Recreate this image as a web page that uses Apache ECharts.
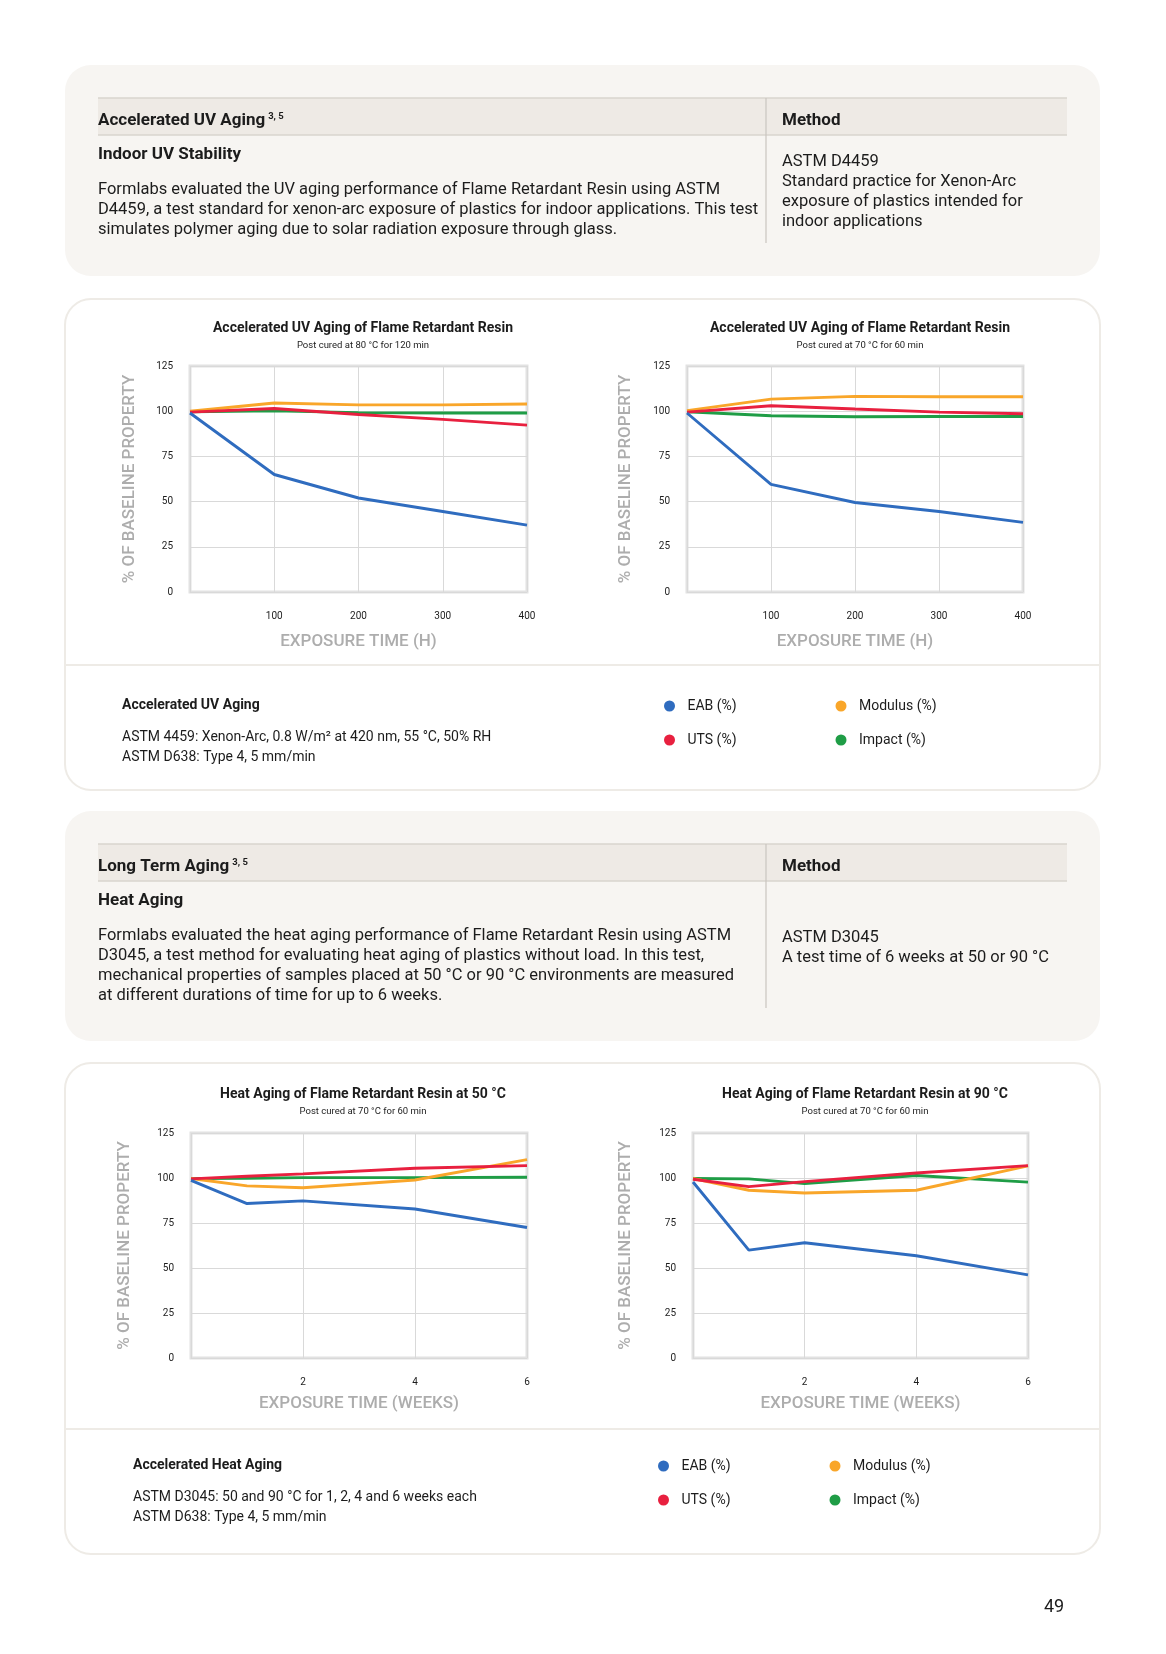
<!DOCTYPE html>
<html>
<head>
<meta charset="utf-8">
<script src="https://cdn.jsdelivr.net/npm/echarts@6/dist/echarts.min.js"></script>
<style>
  html, body { margin: 0; padding: 0; background: #fff; }
  #page { width: 1166px; height: 1654px; }
</style>
</head>
<body>
<div id="page"></div>
<script>
// x values
const uvHours = [0, 100, 200, 300, 400];
const heatWeeks = [0, 1, 2, 4, 6];
const seriesNames = ['EAB (%)', 'Modulus (%)', 'UTS (%)', 'Impact (%)'];

// UV aging, post cured 80 C / 120 min
const uv80EAB = [99, 65, 52, 44.5, 37];
const uv80Modulus = [100, 104.5, 103.5, 103.5, 104];
const uv80UTS = [99.5, 101.5, 98.2, 95.5, 92.3];
const uv80Impact = [99.7, 100.2, 99.2, 99, 99];

// UV aging, post cured 70 C / 60 min
const uv70EAB = [99, 59.5, 49.5, 44.5, 38.5];
const uv70Modulus = [100.3, 106.7, 108.2, 108, 108];
const uv70UTS = [99.5, 103, 101.2, 99.5, 98.6];
const uv70Impact = [99.7, 97.5, 96.9, 97.1, 97.1];

// heat aging at 50 C
const heat50EAB = [98.7, 85.8, 87.3, 82.8, 72.5];
const heat50Modulus = [99.7, 95.6, 94.6, 98.9, 110.2];
const heat50UTS = [99.5, 101, 102.3, 105.4, 106.9];
const heat50Impact = [99.7, 99.9, 100.2, 100.2, 100.4];

// heat aging at 90 C
const heat90EAB = [97.8, 59.9, 64, 56.8, 46.2];
const heat90Modulus = [99.7, 93.2, 91.7, 93.2, 106.7];
const heat90UTS = [99.3, 95.2, 98, 102.8, 106.9];
const heat90Impact = [99.7, 99.5, 96.9, 101.4, 97.7];

const colors = {
  'EAB (%)': '#2f6cbf',
  'Modulus (%)': '#f9a62a',
  'UTS (%)': '#e8203f',
  'Impact (%)': '#1f9d46'
};

const FONT = 'Roboto, "Noto Sans", sans-serif';
const INK = '#1c1c1c';
const BEIGE = '#f7f5f2';
const HEAD = '#eeeae5';
const EDGE = '#eeebe6';
const BODY = 16.5;

const charts = [
  { x: uvHours, data: { 'EAB (%)': uv80EAB, 'Modulus (%)': uv80Modulus, 'UTS (%)': uv80UTS, 'Impact (%)': uv80Impact },
    grid: { left: 190, top: 366, width: 337, height: 226 }, max: 400, step: 100, xName: 'EXPOSURE TIME (H)',
    yGap: 52, xGap: 41,
    title: 'Accelerated UV Aging of Flame Retardant Resin', sub: 'Post cured at 80 °C for 120 min', cx: 358, ty: 316 },
  { x: uvHours, data: { 'EAB (%)': uv70EAB, 'Modulus (%)': uv70Modulus, 'UTS (%)': uv70UTS, 'Impact (%)': uv70Impact },
    grid: { left: 687, top: 366, width: 336, height: 226 }, max: 400, step: 100, xName: 'EXPOSURE TIME (H)',
    yGap: 53, xGap: 41,
    title: 'Accelerated UV Aging of Flame Retardant Resin', sub: 'Post cured at 70 °C for 60 min', cx: 855, ty: 316 },
  { x: heatWeeks, data: { 'EAB (%)': heat50EAB, 'Modulus (%)': heat50Modulus, 'UTS (%)': heat50UTS, 'Impact (%)': heat50Impact },
    grid: { left: 191, top: 1133, width: 336, height: 225 }, max: 6, step: 2, xName: 'EXPOSURE TIME (WEEKS)',
    yGap: 58, xGap: 37,
    title: 'Heat Aging of Flame Retardant Resin at 50 °C', sub: 'Post cured at 70 °C for 60 min', cx: 358, ty: 1082 },
  { x: heatWeeks, data: { 'EAB (%)': heat90EAB, 'Modulus (%)': heat90Modulus, 'UTS (%)': heat90UTS, 'Impact (%)': heat90Impact },
    grid: { left: 693, top: 1133, width: 335, height: 225 }, max: 6, step: 2, xName: 'EXPOSURE TIME (WEEKS)',
    yGap: 59, xGap: 37,
    title: 'Heat Aging of Flame Retardant Resin at 90 °C', sub: 'Post cured at 70 °C for 60 min', cx: 860, ty: 1082 }
];

// draw order: green, orange, red, blue on top
const drawOrder = ['Impact (%)', 'Modulus (%)', 'UTS (%)', 'EAB (%)'];

const grids = [], xAxes = [], yAxes = [], series = [], titles = [];
charts.forEach(function (c, i) {
  grids.push(Object.assign({
    show: true, backgroundColor: '#fff', borderColor: '#e2e2e2', borderWidth: 3
  }, c.grid));
  xAxes.push({
    gridIndex: i, type: 'value', min: 0, max: c.max, interval: c.step,
    axisLine: { show: false }, axisTick: { show: false },
    axisLabel: { showMinLabel: false, margin: 19, fontSize: 10, color: INK, fontFamily: FONT },
    splitLine: { show: true, lineStyle: { color: '#d9d9d9', width: 1 } },
    name: c.xName, nameLocation: 'middle', nameGap: c.xGap,
    nameTextStyle: { fontSize: 17, color: '#adadad', fontFamily: FONT, fontWeight: 500 }
  });
  yAxes.push({
    gridIndex: i, type: 'value', min: 0, max: 125, interval: 25,
    axisLine: { show: false }, axisTick: { show: false },
    axisLabel: { margin: 17, fontSize: 10, color: INK, fontFamily: FONT },
    splitLine: { show: true, lineStyle: { color: '#d9d9d9', width: 1 } },
    name: '% OF BASELINE PROPERTY', nameLocation: 'middle', nameGap: c.yGap,
    nameTextStyle: { fontSize: 17, color: '#adadad', fontFamily: FONT, fontWeight: 500 }
  });
  drawOrder.forEach(function (name) {
    series.push({
      name: name, type: 'line', xAxisIndex: i, yAxisIndex: i,
      data: c.x.map(function (xv, k) { return [xv, c.data[name][k]]; }),
      showSymbol: false, symbol: 'none',
      lineStyle: { color: colors[name], width: 2.9 },
      itemStyle: { color: colors[name] }
    });
  });
  titles.push({
    text: c.title, subtext: c.sub, left: c.cx, top: c.ty, textAlign: 'center', itemGap: 6,
    textStyle: { fontSize: 14, fontWeight: 'bold', color: INK, fontFamily: FONT },
    subtextStyle: { fontSize: 9.5, color: INK, fontFamily: FONT }
  });
});

function txt(x, y, s, size, bold) {
  return {
    type: 'text', x: x, y: y, z: 5,
    style: { text: s, fill: INK, fontSize: size, fontWeight: bold ? 'bold' : 'normal',
      fontFamily: FONT, verticalAlign: 'middle', textAlign: 'left' }
  };
}
function richHead(x, y, s) {
  return {
    type: 'text', x: x, y: y, z: 5,
    style: {
      text: '{a|' + s + '} {b|3, 5}', verticalAlign: 'middle', fontFamily: FONT,
      rich: {
        a: { fontSize: 17, fontWeight: 'bold', fill: INK, fontFamily: FONT },
        b: { fontSize: 9.5, fontWeight: 'bold', fill: INK, fontFamily: FONT, verticalAlign: 'top', padding: [0, 0, 8, 0] }
      }
    }
  };
}
function hline(x1, x2, y, color, w) {
  return { type: 'line', z: 1, shape: { x1: x1, y1: y, x2: x2, y2: y }, style: { stroke: color, lineWidth: w } };
}
function vline(x, y1, y2, color, w) {
  return { type: 'line', z: 1, shape: { x1: x, y1: y1, x2: x, y2: y2 }, style: { stroke: color, lineWidth: w } };
}

const graphics = [
  // panel 1
  { type: 'rect', z: -10, shape: { x: 65, y: 65, width: 1035, height: 211, r: 26 }, style: { fill: BEIGE } },
  { type: 'rect', z: 0, shape: { x: 98, y: 98, width: 969, height: 37 }, style: { fill: HEAD } },
  hline(98, 1067, 98, '#d8d4ce', 1.5), hline(98, 1067, 135, '#d8d4ce', 1.5),
  vline(766, 98, 243, '#c9c5bf', 1.2),
  richHead(98, 121, 'Accelerated UV Aging'),
  txt(782, 121, 'Method', 17, true),
  txt(98, 155, 'Indoor UV Stability', 17, true),
  txt(98, 190, 'Formlabs evaluated the UV aging performance of Flame Retardant Resin using ASTM', BODY, false),
  txt(98, 210, 'D4459, a test standard for xenon-arc exposure of plastics for indoor applications. This test', BODY, false),
  txt(98, 230, 'simulates polymer aging due to solar radiation exposure through glass.', BODY, false),
  txt(782, 162, 'ASTM D4459', BODY, false),
  txt(782, 182, 'Standard practice for Xenon-Arc', BODY, false),
  txt(782, 202, 'exposure of plastics intended for', BODY, false),
  txt(782, 222, 'indoor applications', BODY, false),

  // panel 2
  { type: 'rect', z: -10, shape: { x: 65, y: 299, width: 1035, height: 491, r: 26 }, style: { fill: '#fff', stroke: EDGE, lineWidth: 2 } },
  hline(66, 1099, 665, EDGE, 2),
  txt(122, 705, 'Accelerated UV Aging', 14, true),
  txt(122, 737, 'ASTM 4459: Xenon-Arc, 0.8 W/m² at 420 nm, 55 °C, 50% RH', 14, false),
  txt(122, 757, 'ASTM D638: Type 4, 5 mm/min', 14, false),

  // panel 3
  { type: 'rect', z: -10, shape: { x: 65, y: 811, width: 1035, height: 230, r: 26 }, style: { fill: BEIGE } },
  { type: 'rect', z: 0, shape: { x: 98, y: 844, width: 969, height: 37 }, style: { fill: HEAD } },
  hline(98, 1067, 844, '#d8d4ce', 1.5), hline(98, 1067, 881, '#d8d4ce', 1.5),
  vline(766, 844, 1008, '#c9c5bf', 1.2),
  richHead(98, 867, 'Long Term Aging'),
  txt(782, 867, 'Method', 17, true),
  txt(98, 901, 'Heat Aging', 17, true),
  txt(98, 936, 'Formlabs evaluated the heat aging performance of Flame Retardant Resin using ASTM', BODY, false),
  txt(98, 956, 'D3045, a test method for evaluating heat aging of plastics without load. In this test,', BODY, false),
  txt(98, 976, 'mechanical properties of samples placed at 50 °C or 90 °C environments are measured', BODY, false),
  txt(98, 996, 'at different durations of time for up to 6 weeks.', BODY, false),
  txt(782, 938, 'ASTM D3045', BODY, false),
  txt(782, 958, 'A test time of 6 weeks at 50 or 90 °C', BODY, false),

  // panel 4
  { type: 'rect', z: -10, shape: { x: 65, y: 1063, width: 1035, height: 491, r: 26 }, style: { fill: '#fff', stroke: EDGE, lineWidth: 2 } },
  hline(66, 1099, 1429, EDGE, 2),
  txt(133, 1465, 'Accelerated Heat Aging', 14, true),
  txt(133, 1497, 'ASTM D3045: 50 and 90 °C for 1, 2, 4 and 6 weeks each', 14, false),
  txt(133, 1517, 'ASTM D638: Type 4, 5 mm/min', 14, false),

  // page number
  txt(1044, 1607, '49', 18, false)
];

function legendAt(left, top) {
  return {
    data: seriesNames,
    left: left, top: top, width: 360, orient: 'horizontal',
    icon: 'circle', itemWidth: 26, itemHeight: 11, itemGap: 20,
    selectedMode: false,
    textStyle: { fontSize: 14, color: INK, fontFamily: FONT, width: 128, lineHeight: 14 }
  };
}

const chart = echarts.init(document.getElementById('page'), null, { renderer: 'canvas' });
chart.setOption({
  animation: false,
  backgroundColor: '#fff',
  title: titles,
  grid: grids,
  xAxis: xAxes,
  yAxis: yAxes,
  legend: [legendAt(659, 694), legendAt(653, 1454)],
  graphic: { elements: graphics },
  series: series
});
</script>
</body>
</html>
